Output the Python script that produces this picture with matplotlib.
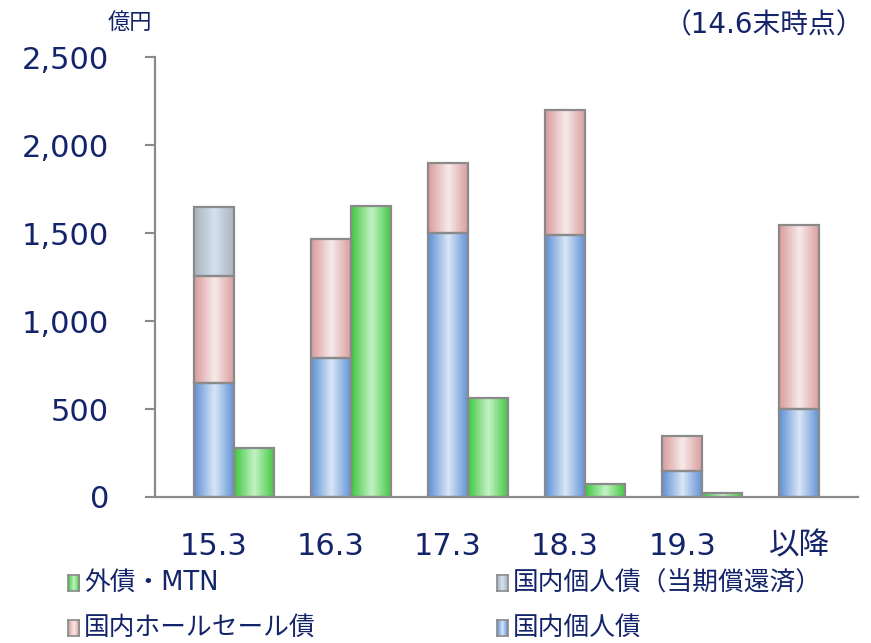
import numpy as np
import matplotlib
matplotlib.use("Agg")
import matplotlib.pyplot as plt
from matplotlib.colors import LinearSegmentedColormap
from matplotlib.patches import Rectangle

plt.rcParams['font.family'] = ['DejaVu Sans', 'Noto Sans CJK JP']

categories = ['15.3', '16.3', '17.3', '18.3', '19.3', '以降']
kojin = [650, 790, 1500, 1490, 150, 500]            # 国内個人債
wholesale = [605, 675, 400, 710, 195, 1045]         # 国内ホールセール債
kojin_redeemed = [390, 0, 0, 0, 0, 0]               # 国内個人債（当期償還済）
gaisai = [280, 1655, 565, 75, 25, 0]                # 外債・MTN
yticks = [0, 500, 1000, 1500, 2000, 2500]
ytick_labels = ['0', '500', '1,000', '1,500', '2,000', '2,500']

TXT = '#14246a'
EDGE = '#8a8a8a'
styles = {
    'blue': ('#5e8fd6', '#d8e6f6'),
    'pink': ('#d99a9a', '#f7eaea'),
    'gray': ('#aab2bc', '#d4e1f1'),
    'green': ('#3ec63e', '#c4f2c4'),
}

fig = plt.figure(figsize=(8.71, 6.43), dpi=100)
ax = fig.add_axes([155/871, 1-497/643, 703/871, 440/643])

x = np.arange(len(categories))
w = 0.342

def grad_bars(xpos, heights, bottoms, style, label):
    edge, center = styles[style]
    cmap = LinearSegmentedColormap.from_list(style, [edge, center, edge])
    t = np.linspace(0, 1, 200)[None, :]
    bars = ax.bar(xpos, heights, width=w, bottom=bottoms, align='edge',
                  facecolor='none', edgecolor=EDGE, linewidth=1.6, zorder=3, label=label)
    for r in bars:
        if r.get_height() <= 0:
            r.set_visible(False)
            continue
        x0, y0 = r.get_x(), r.get_y()
        ax.imshow(t, cmap=cmap, extent=[x0, x0 + r.get_width(), y0, y0 + r.get_height()],
                  aspect='auto', zorder=2, interpolation='bilinear')
    return bars

b1 = np.array(kojin)
b2 = b1 + np.array(wholesale)
grad_bars(x - w/2, kojin, 0, 'blue', '国内個人債')
grad_bars(x - w/2, wholesale, b1, 'pink', '国内ホールセール債')
grad_bars(x - w/2, kojin_redeemed, b2, 'gray', '国内個人債（当期償還済）')
grad_bars(x + w/2, gaisai, 0, 'green', '外債・MTN')

ax.set_xlim(-0.5, len(categories) - 0.5)
ax.set_ylim(0, 2500)
ax.set_yticks(yticks)
ax.set_yticklabels(ytick_labels)
ax.set_xticks(x)
ax.set_xticklabels(categories)
ax.tick_params(axis='y', direction='out', length=7, width=1.5, color=EDGE,
               labelsize=22, labelcolor=TXT, pad=26)
ax.tick_params(axis='x', length=0, labelsize=22, labelcolor=TXT, pad=25)
for s in ['top', 'right']:
    ax.spines[s].set_visible(False)
for s in ['left', 'bottom']:
    ax.spines[s].set_color(EDGE)
    ax.spines[s].set_linewidth(1.6)

fig.text(130/871, 1-22/643, '億円', ha='center', va='center', fontsize=16, color=TXT)
fig.text(864/871, 1-25/643, '（14.6末時点）', ha='right', va='center', fontsize=20, color=TXT)

legend_items = [
    ('外債・MTN', 'green', 68, 583),
    ('国内個人債（当期償還済）', 'gray', 497, 583),
    ('国内ホールセール債', 'pink', 68, 628),
    ('国内個人債', 'blue', 497, 628),
]
for text, st, lx, ly in legend_items:
    edge, center = styles[st]
    cmap = LinearSegmentedColormap.from_list(st, [edge, center, edge])
    lax = fig.add_axes([lx / 871, 1 - (ly + 8) / 643, 11/871, 16/643])
    lax.imshow(np.linspace(0, 1, 50)[None, :], cmap=cmap, aspect='auto',
               interpolation='bilinear')
    lax.set_xticks([]); lax.set_yticks([])
    for sp in lax.spines.values():
        sp.set_color(EDGE); sp.set_linewidth(1.2)
    fig.text((lx + 16) / 871, 1 - ly / 643, text, ha='left', va='center',
             fontsize=18.5, color=TXT)

fig.savefig('out.png', dpi=100)
